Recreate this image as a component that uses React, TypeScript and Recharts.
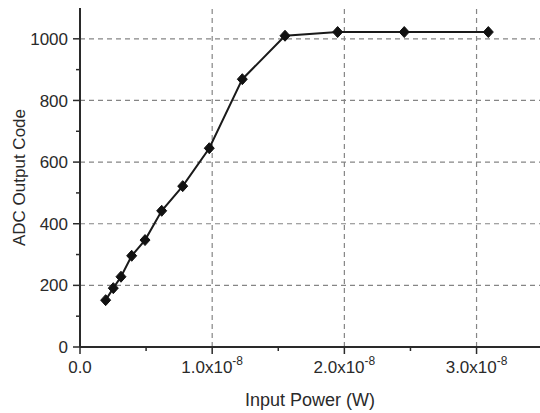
import React from 'react';
import { LineChart, Line, XAxis, YAxis, ReferenceLine } from 'recharts';

// input power in units of 1e-8 W
const powerE8 = [0.194, 0.252, 0.31, 0.391, 0.492, 0.618, 0.777, 0.978, 1.228, 1.551, 1.949, 2.453, 3.089];
const adcCode = [152, 191, 228, 296, 347, 442, 522, 645, 869, 1010, 1022, 1022, 1022];

const xTicks = [0, 0.5e-8, 1e-8, 1.5e-8, 2e-8, 2.5e-8, 3e-8];
const xMajor = [0, 1e-8, 2e-8, 3e-8];
const yTicks = [0, 100, 200, 300, 400, 500, 600, 700, 800, 900, 1000];
const yGrid = [200, 400, 600, 800, 1000];
const xGrid = [1e-8, 2e-8, 3e-8];

const data = powerE8.map((p, i) => ({ p: p * 1e-8, code: adcCode[i] }));

const W = 540;
const H = 413;
const TOP = 8;
const LEFT = 80;
const BOTTOM = 347;
const RIGHT = 540;
const FONT = '"Liberation Sans", Arial, sans-serif';
const INK = '#2a2a2a';

const isMajorX = (v: number) => xMajor.some(m => Math.abs(m - v) < 1e-12);

const BottomTick = (props: any) => {
  const { x, payload } = props;
  const v = payload.value;
  const major = isMajorX(v);
  return (
    <g>
      <line x1={x} x2={x} y1={BOTTOM} y2={BOTTOM + (major ? 7 : 4)} stroke={INK} strokeWidth={1.5} />
      {major && (
        <text x={x} y={373} textAnchor="middle" fontSize={17} fontFamily={FONT} fill={INK}>
          {v === 0 ? '0.0' : `${(v / 1e-8).toFixed(1)}x10`}
          {v !== 0 && <tspan dy={-8} fontSize={12}>-8</tspan>}
        </text>
      )}
    </g>
  );
};

const TopTick = (props: any) => {
  const { x, payload } = props;
  const major = isMajorX(payload.value);
  return <line x1={x} x2={x} y1={TOP} y2={TOP + (major ? 6 : 4)} stroke={INK} strokeWidth={1.5} />;
};

const LeftTick = (props: any) => {
  const { y, payload } = props;
  const v = payload.value;
  const major = v % 200 === 0;
  return (
    <g>
      <line x1={LEFT - (major ? 7 : 4)} x2={LEFT} y1={y} y2={y} stroke={INK} strokeWidth={1.5} />
      {major && (
        <text x={68} y={y} dy="0.36em" textAnchor="end" fontSize={17} fontFamily={FONT} fill={INK}>
          {v}
        </text>
      )}
    </g>
  );
};

const RightTick = (props: any) => {
  const { y, payload } = props;
  const major = payload.value % 200 === 0;
  return <line x1={RIGHT - (major ? 5 : 3)} x2={RIGHT} y1={y} y2={y} stroke={INK} strokeWidth={1.5} />;
};

const Diamond = (props: any) => {
  const { cx, cy, index } = props;
  if (cx == null || cy == null) return null;
  return (
    <polygon
      key={`d-${index}`}
      points={`${cx},${cy - 5.5} ${cx + 5},${cy} ${cx},${cy + 5.5} ${cx - 5},${cy}`}
      fill="#111"
      stroke="#111"
      strokeWidth={1}
    />
  );
};

const YTitle = (props: any) => {
  const cy = (TOP + BOTTOM) / 2;
  return (
    <text x={25} y={cy} transform={`rotate(-90 25 ${cy})`} textAnchor="middle" fontSize={17} fontFamily={FONT} fill={INK}>
      ADC Output Code
    </text>
  );
};

const XTitle = (props: any) => (
  <text x={(LEFT + RIGHT) / 2} y={406} textAnchor="middle" fontSize={18} fontFamily={FONT} fill={INK}>
    Input Power (W)
  </text>
);

export default function App() {
  return (
    <div style={{ position: 'absolute', left: 0, top: 0, width: W, height: H, background: '#fff' }}>
      <LineChart width={W} height={H} data={data} margin={{ top: TOP, right: 0, bottom: 0, left: 0 }}>
        <XAxis
          dataKey="p"
          type="number"
          domain={[0, 3.48e-8]}
          ticks={xTicks}
          interval={0}
          height={H - BOTTOM}
          tickLine={false}
          axisLine={{ stroke: INK, strokeWidth: 2 }}
          tick={<BottomTick />}
          label={{ content: <XTitle /> }}
        />
        <XAxis
          xAxisId="top"
          orientation="top"
          type="number"
          domain={[0, 3.48e-8]}
          ticks={xTicks}
          interval={0}
          height={0}
          tickLine={false}
          axisLine={{ stroke: INK, strokeWidth: 2 }}
          tick={<TopTick />}
        />
        <YAxis
          type="number"
          domain={[0, 1100]}
          ticks={yTicks}
          interval={0}
          width={LEFT}
          tickLine={false}
          axisLine={{ stroke: INK, strokeWidth: 2 }}
          tick={<LeftTick />}
          label={{ content: <YTitle /> }}
        />
        <YAxis
          yAxisId="right"
          orientation="right"
          type="number"
          domain={[0, 1100]}
          ticks={yTicks}
          interval={0}
          width={0}
          tickLine={false}
          axisLine={false}
          tick={<RightTick />}
        />
        {yGrid.map(v => (
          <ReferenceLine key={`gy-${v}`} y={v} stroke="#858585" strokeDasharray="5 4" strokeWidth={1.2} />
        ))}
        {xGrid.map(v => (
          <ReferenceLine key={`gx-${v}`} x={v} stroke="#858585" strokeDasharray="5 4" strokeWidth={1.2} />
        ))}
        <Line
          dataKey="code"
          stroke="#1a1a1a"
          strokeWidth={2}
          dot={Diamond}
          activeDot={false}
          isAnimationActive={false}
        />
      </LineChart>
    </div>
  );
}
